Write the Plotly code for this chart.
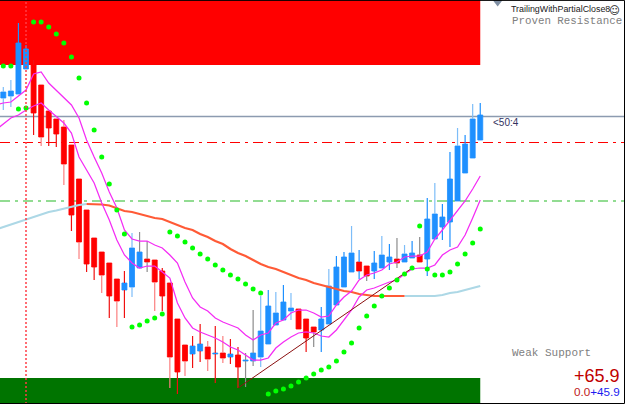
import plotly.graph_objects as go

# Candle series, price units, oldest bar first
open_ = [306,308,310,335,339,319,293,285,277,259,225,194,166,152,141,125,114,117,136,145,144,133,121,85,59,50,53,57,50,51,47,49,43,43,47,60,79,84,93,95,85,77,74,80,99,117,132,142,138,133,136,142,145,142,146,149,145,165,177,182,203,231,246,264]
close = [312,313,361,355,291,267,276,270,240,189,162,140,137,129,108,103,121,156,152,142,122,108,47,32,43,58,60,45,51,46,50,37,44,51,73,98,91,102,96,75,66,72,85,118,137,147,151,133,128,141,149,147,141,150,151,142,185,190,187,225,258,260,285,289]
high = [317,324,381,359,344,319,293,285,284,259,225,194,166,152,141,125,133,171,172,163,144,136,121,85,59,68,80,63,78,68,65,57,51,94,108,114,112,119,111,95,85,77,97,135,148,152,178,154,138,153,168,160,166,159,163,167,206,221,200,252,276,269,300,301]
low = [294,297,310,335,269,258,258,257,219,173,145,132,124,111,86,77,86,107,136,132,93,93,16,10,28,36,42,33,21,41,40,16,17,38,37,60,79,84,84,75,52,57,52,80,99,117,132,125,123,125,136,134,136,142,146,142,128,165,164,157,203,231,246,264]
wick_tone = ["lb","lb","b","b","r","lr","r","r","lr","r","lr","r","r","lr","r","lr","r","lb","g","g","lr","r","lr","r","lr","r","r","lr","r","lr","r","r","g","g","lb","b","lb","b","lb","r","r","g","b","lb","b","b","lb","b","g","b","lb","b","g","lb","b","g","b","lb","b","b","lb","b","lb","b"]

# Moving averages and parabolic stop; the averages begin one bar before the first candle
fast_ma = [299,301,302,308,314,330,332,321,314,307,299,286,264,247,231,212,196,174,165,163,163,159,156,149,141,122,106,97,93,86,82,79,76,69,64,69,71,81,84,91,94,94,91,87,88,99,107,113,124,129,131,134,140,142,147,148,148,152,165,174,184,194,203,215,228]
mid_ma = [274,280,286,289,294,298,301,294,287,281,271,247,234,221,201,184,164,149,141,136,138,138,132,126,101,86,76,72,69,66,62,57,54,49,44,44,46,56,62,67,71,72,71,68,67,74,84,94,107,114,116,119,122,124,130,135,136,136,139,149,154,157,169,186,204]
slow_ma = [174.5,177,179.5,182,184.5,187,189.5,192,193.5,195.5,197,199,200,200,199.5,198.5,196,193,192,190,188,186,185,182,179,176,174,170,167,163,160,155,151,148,144,140,137,135,132,129,126,124,121,119,117,115,113,112,110,109,108,108,108,108,108,108,108,108,108,109,111,112,114,116,118]
sar = [338,338,295,296,382,382,377,370,361,347,326,301,274,247,220,194,170,77,79,83,86,90,172,168,162,156,150,145,139,134,129,125,120,115,111,10,13,15,18,22,26,30,34,37,43,52,61,76,88,98,108,116,124,130,136,178,135,129,129,132,140,150,161,175]

# Levels and zones
resistance_zone = [339, 404]
support_zone = [1, 26]
pivot_level = 287.5
upper_level = 261.5
lower_level = 203
trend_bars = [31, 54]
trend_values = [16, 136]
marker_bar = 3
slow_turns = [11, 53]

BLUE, RED = "#1e90ff", "#ff0000"
WICK = {"b": "#1e90ff", "lb": "#7dbdf8", "r": "#f01010", "lr": "#fb7f7f", "g": "#8c8c8c"}
bars = list(range(len(open_)))
ma_bars = [-1] + bars
X0, X1 = -0.436, 82.12
LAST = bars[-1]

fig = go.Figure()

# Candle bodies
for colour, test in ((BLUE, lambda o, c: c >= o), (RED, lambda o, c: c < o)):
    idx = [i for i in bars if test(open_[i], close[i])]
    fig.add_trace(go.Bar(
        x=idx,
        base=[min(open_[i], close[i]) for i in idx],
        y=[abs(open_[i] - close[i]) for i in idx],
        width=0.66, marker=dict(color=colour, line=dict(color=colour, width=0.8)),
        hoverinfo="skip", showlegend=False,
    ))

# Wicks, one trace per tone; they stop at the body edges
for tone, colour in WICK.items():
    xs, ys = [], []
    for i in bars:
        if wick_tone[i] != tone:
            continue
        top, bottom = max(open_[i], close[i]), min(open_[i], close[i])
        if high[i] > top:
            xs += [i, i, None]; ys += [top, high[i], None]
        if low[i] < bottom:
            xs += [i, i, None]; ys += [bottom, low[i], None]
    fig.add_trace(go.Scatter(x=xs, y=ys, mode="lines", line=dict(color=colour, width=1.2),
                             connectgaps=False, hoverinfo="skip", showlegend=False))

# Slow average changes colour across its turning range
a, b = slow_turns
for lo, hi, colour in ((-1, a, "#add8e6"), (b, LAST, "#add8e6"), (a, b, "#ff5a36")):
    fig.add_trace(go.Scatter(x=ma_bars[lo + 1:hi + 2], y=slow_ma[lo + 1:hi + 2], mode="lines",
                             line=dict(color=colour, width=2.2), hoverinfo="skip", showlegend=False))

for series in (fast_ma, mid_ma):
    fig.add_trace(go.Scatter(x=ma_bars, y=series, mode="lines", line=dict(color="#f42cf4", width=1.25),
                             hoverinfo="skip", showlegend=False))

fig.add_trace(go.Scatter(x=trend_bars, y=trend_values, mode="lines", line=dict(color="#8b1010", width=1),
                         hoverinfo="skip", showlegend=False))

fig.add_trace(go.Scatter(x=bars, y=sar, mode="markers", marker=dict(color="#00ff00", size=5, symbol="circle"),
                         hoverinfo="skip", showlegend=False))

# Small handle at the top of the price scale
fig.add_trace(go.Scatter(x=[65.3], y=[402], mode="markers", marker=dict(color="#7f8fa3", size=9, symbol="triangle-down"),
                         hoverinfo="skip", showlegend=False))

shapes = [
    dict(type="rect", layer="below", xref="x", yref="y", x0=X0, x1=LAST, y0=resistance_zone[0], y1=resistance_zone[1],
         fillcolor="#ff0000", line_width=0),
    dict(type="rect", layer="below", xref="x", yref="y", x0=X0, x1=LAST, y0=support_zone[0], y1=support_zone[1],
         fillcolor="#007400", line_width=0),
    dict(type="line", layer="below", xref="paper", yref="y", x0=0, x1=1, y0=pivot_level, y1=pivot_level,
         line=dict(color="#8c9bb0", width=1.5)),
    dict(type="line", layer="below", xref="paper", yref="y", x0=0, x1=1, y0=upper_level, y1=upper_level,
         line=dict(color="#ff0000", width=1, dash="10px,5px,3px,5px")),
    dict(type="line", layer="below", xref="paper", yref="y", x0=0, x1=1, y0=lower_level, y1=lower_level,
         line=dict(color="#92dc92", width=2, dash="10px,5px,3px,5px")),
    dict(type="line", layer="above", xref="x", yref="paper", x0=marker_bar, x1=marker_bar, y0=0, y1=1,
         line=dict(color="rgba(255,60,70,0.75)", width=2, dash="2px,2px")),
    # Frame on the top, right and bottom edges
    dict(type="path", layer="above", xref="paper", yref="paper", path="M 0 0.999 L 0.9992 0.999 L 0.9992 0.0012 L 0 0.0012",
         line=dict(color="#000000", width=1)),
]


def label(x, y, text, size, colour, family="Liberation Sans", anchor="left"):
    return dict(xref="paper", yref="paper", x=x / 625, y=1 - y / 404, text=text, showarrow=False,
                xanchor=anchor, yanchor="middle", borderpad=0,
                font=dict(family=family, size=size, color=colour))


annotations = [
    label(510, 9, "TrailingWithPartialClose8", 8.9, "#202020"),
    label(614, 9.5, "☺", 10.5, "#101010", "DejaVu Sans", anchor="center"),
    label(511, 21, "Proven Resistance", 10.8, "#808080", "Liberation Mono"),
    label(492, 122, "&lt;50:4", 10, "#33335f"),
    label(511, 353, "Weak Support", 11, "#808080", "Liberation Mono"),
    label(621, 376, "+65.9", 18, "#c00000", anchor="right"),
    label(621, 391, '<span style="color:#c02020">0.0</span><span style="color:#1c1cf0">+45.9</span>', 11.7, "#c02020", anchor="right"),
]

fig.update_layout(
    width=625, height=404, margin=dict(l=0, r=0, t=0, b=0),
    paper_bgcolor="#ffffff", plot_bgcolor="#ffffff", barmode="overlay",
    showlegend=False, shapes=shapes, annotations=annotations,
    xaxis=dict(range=[X0, X1], visible=False, fixedrange=True),
    yaxis=dict(range=[0, 404], visible=False, fixedrange=True),
)

fig.write_html("out.html", config=dict(displayModeBar=False))
